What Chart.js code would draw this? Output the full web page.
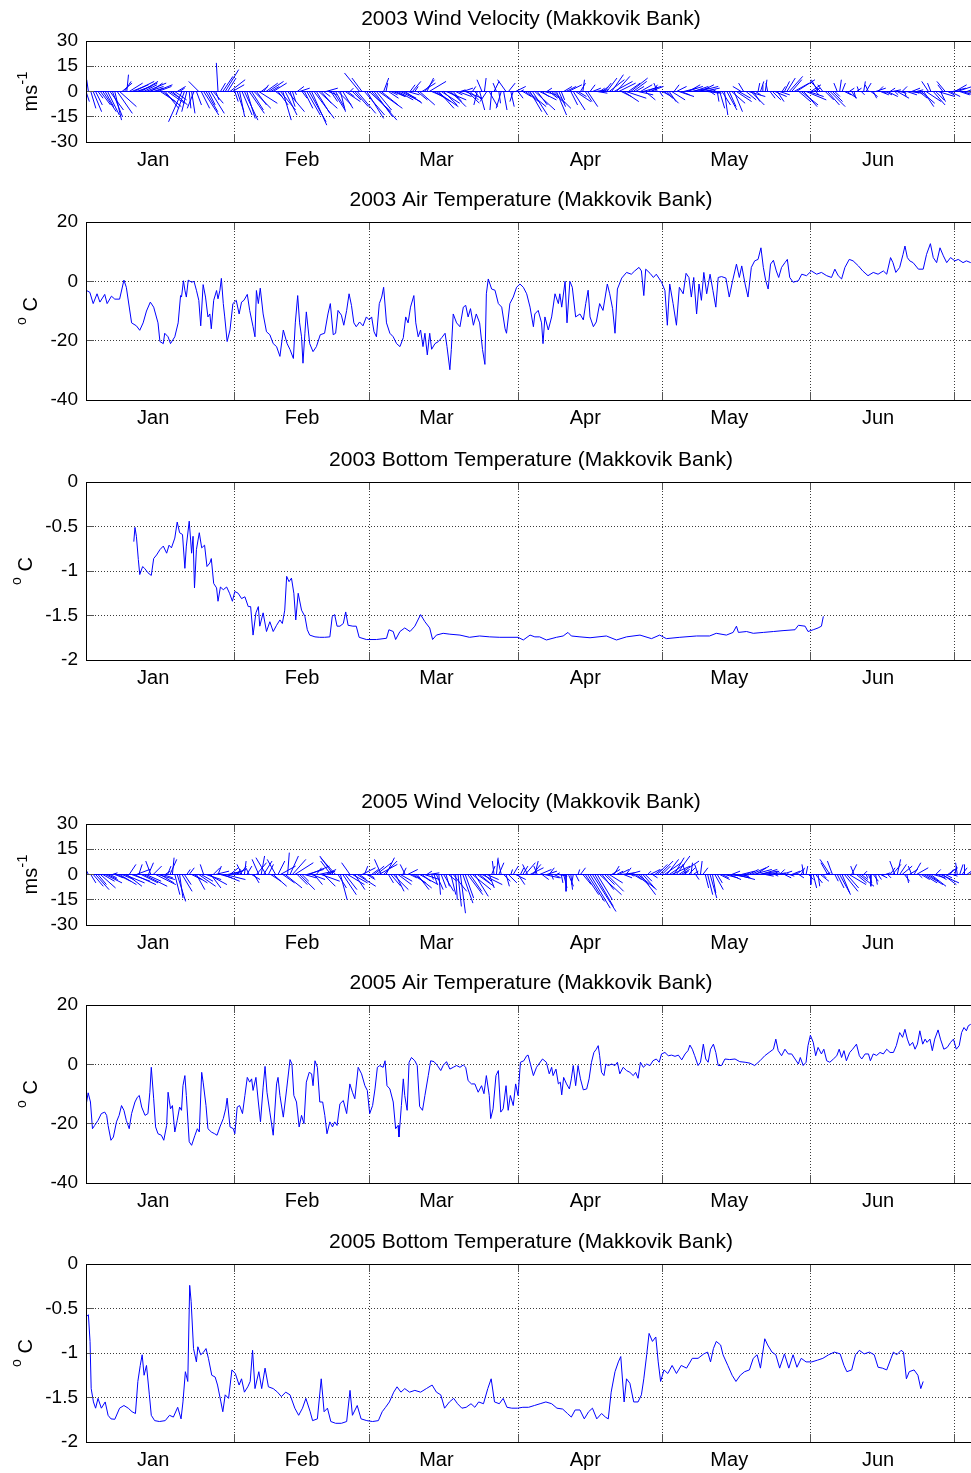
<!DOCTYPE html>
<html>
<head>
<meta charset="utf-8">
<title>Makkovik Bank 2003 / 2005</title>
<script src="https://cdn.jsdelivr.net/npm/chart.js@4.4.1/dist/chart.umd.min.js"></script>
<style>
  html, body { margin: 0; padding: 0; background: #fff; overflow: hidden; width: 971px; height: 1473px; }
  canvas { position: absolute; left: 0; }
</style>
</head>
<body>
<script>
// ---------- time axis (day of year, 0 = 1 Jan) ----------
const MONTHS = ['Jan', 'Feb', 'Mar', 'Apr', 'May', 'Jun'];
const MONTH_STARTS = [0, 31, 59, 90, 120, 151, 181];
const MONTH_LABEL_DAYS = [14, 45, 73, 104, 134, 165];
const X_MAX = 185.4;

// ---------- y tick sets ----------
const WIND_TICKS = [-30, -15, 0, 15, 30];
const AIR_TICKS = [-40, -20, 0, 20];
const BOTTOM_TICKS = [-2, -1.5, -1, -0.5, 0];

// ---------- wind sticks: one (u, v) pair in m/s every half day ----------
const WIND_STEP = 0.5;
const WIND03_U = [
  2,-1,3,5,4, 3,6,8,5,7,8,6,4,9,10,6,4,1, 8,10,12,9,11,10,8,12,9,7,6,10,8,
  9,11,8,10,6,9,7,5,3,-8, -5,-3,1,2,-4,3,-6, 5,9,7,4,8,6,2,-1,3, 6,8,5,9,7,
  2,4,3,6,8,5,9,7,10,6,11,4,3, 7,9,5,8,4,6,9,5,7,10,3,2,1,4,6, 3,5,8,10,9,12,8,11,6,4,7,5,
  4,7,5,8,3,6,9,4,2, 5,8,11,-9,-6,12,10,13,15,11,9,14,10,3,1,6,4,7,
  6,9,12,8,10,7,3,5,2,6,9,8,6,4,10, 7,10,13,9,11,8,12,6,9,5,4,8,3,6,10,7,5,
  2,4,-2,3,-3,1,-4,5,-1,3,-2, 1,-3,2,-5,4,2,-2,6,3,
  2,5,8,11,7,9,12,6,10,4,7,3,5,8,10,6,4,2,5, 6,8,4,7,9,5,3,1,4,6,3, 5,8,6,3,4,
  4,6,9,7,11,8,10,6,9,12,7,10,8,5,9,7,11,6,4,8, 3,1,-2,2,4, 5,7,4,8,3,6,9,5,
  8,10,7,11,9,6,12,8,10,5,7,3,2,4, 1,3,5,2,6,4,8,5,9,7,-5,-3,6,10,8,4,3,
  1,2,0,1,-1,3,5,7,4,6,2, 3,5,8,6,9,11,7,10,8,12,9,6,4, 2,-4,-6,-3,5,7,9,6,3,-2,1,2,4,6,3,
  2,1,3,-1,2,1,3,-2,4,2,6,3,5,2, 4,6,3,5,2,7,4,3,1,6,8,5,3,4,
  5,8,6,9,-4,-2,7,5,10,3,-3,-5,4,6,8, 7,9,6,10,8,5,4
];
const WIND03_V = [
  -6,7,-10,-12,-8, -4,-8,-12,-9,-14,-11,-15,-17,-13,-9,5,6,10, 5,4,6,3,5,6,4,5,3,5,2,4,3,
  -6,-9,-10,-7,-4,-8,-5,3,2,-18, -14,-12,-10,-13,-10,-8,6, -10,-14,-12,-8,-13,-7,-5,17,5, 9,13,8,7,4,
  -6,-12,-15,-14,-17,-16,-13,-11,-10,-8,-7,3,4, 5,6,3,5,-3,-8,-11,-17,-14,-12,-9,-6,-2,3,2, -4,-10,-14,-18,-20,-16,-13,-10,-7,-3,2,-2,
  -6,-11,-9,-8,-12,-10,-6,-3,2, -5,-9,-13,11,8,-14,-16,-12,-17,-15,-11,-10,-8,8,5,-4,-2,-3,
  -3,-5,-6,-4,-7,-2,4,6,3,-5,-8,5,7,8,6, -3,-6,-9,-10,-7,-8,-5,-4,-9,-6,-2,-3,1,2,-4,-7,-5,
  3,-5,-8,-11,7,8,-6,-9,-11,6,5, -7,-10,-11,7,5,-9,-6,3,-4,
  1,-3,-6,-9,-12,-14,-11,-8,-5,-3,-2,2,-4,-7,-10,-14,-9,-5,3, 3,4,-8,-11,-6,-3,5,7,-6,-9,4, 2,1,-1,2,3,
  5,8,7,10,6,9,5,-3,-6,-4,5,8,6,3,-2,4,3,-5,2,3, 4,3,5,-3,-2, -4,-7,-6,-5,4,3,-3,-2,
  2,3,4,2,3,1,3,4,2,1,-1,-2,1,-1, -6,-10,-8,-14,-11,-9,-7,-12,-6,-4,3,5,-5,-3,-8,-6,-2,
  5,6,4,7,5,-4,-5,-3,-6,-2,3, 6,8,9,7,5,7,-6,-8,-9,-5,-3,4,2, -2,7,6,4,-5,-8,-9,-6,-3,5,7,5,-2,-4,2,
  -3,-4,2,3,-2,6,5,4,-3,-4,2,3,-2,-1, -2,-3,2,1,-2,-4,-1,3,-3,-2,-1,2,-1,1,
  -4,-7,-9,-6,6,5,-8,-5,-3,-6,4,6,-2,-3,2, 4,3,-2,-3,-1,2,1
];
const WIND05_U = [
  -4,-2,3,6,8,5,9,7,10,6,4,3, 5,8,10,7,12,9,4,11,13,8,2,10,14,9,3,-3,5,12,10,8,6,3,
  2,4,1,3,5,2,6,4,2, 3,6,8,5,10,7,-2,9,11,6,4,8,2,7,10,12,9,5,8,3, 2,4,-3,1,3,-2,5,3,6,-4,2,5,-6,
  3,6,8,-5,4,9,7,10,1,5,8,11,6,9,4,7,10,12,8,5,3,9,11,7,6,4, -6,-8,-9,5,4,8,7,10,-5,9,6,11,4,8,2,5,3,
  4,6,9,11,-4,8,5,3,6,9,5,8,7,2,-3,6,4,8,10,7,11,5,9,3,6,
  1,2,4,1,3,6,2,5,3,8,1,2,3,6,5,9,7,11,8,10,6,12,4,7,3, 2,-1,1,3,-2,4,2,5,1,3,6,4,2,
  3,6,-3,8,5,2,-2,7,4,9,6,3,1,4,2,5, 1,2,0,3,1,-1,2,1, 3,5,8,10,12,14,11,9,13,7,6,10,8,5,3,
  4,6,8,5,3,7,2,5,8,11,9,7,4,2,6,3, 4,6,8,5,10,7,9,11,6,8,12,5,3,-2,4,1,3,
  2,-2,1,3,2,3,4,2,5,3,6,4,8,10,7,5, 9,11,6,8,4,2,6,9,11,8,12,10,7,5,3,6, 4,2,5,3,6,4,1,3,5,2,4,3,
  2,-1,1,3,0,2,4,1,5,2,3, -4,-6,-3,2,4,6,5,8,7,10,3,-2,6,9,4,2, 1,2,0,3,1,2,4,1,3,2,
  3,5,-3,2,4,6,3,1,5,-2,4,7,2, 5,8,10,6,9,7,3,5,11,8,4,6,2,3, 1,-1,2,3,0,4,2
];
const WIND05_V = [
  6,4,-5,-7,-9,-6,-8,-4,-5,-3,-2,1, -2,-4,-6,-3,-5,-7,6,-4,-6,3,6,-5,-7,-4,7,8,5,-6,-3,-5,-2,2,
  5,9,10,-12,-16,-14,-10,-6,3, 4,-3,-5,-9,-7,-4,6,-3,-6,-8,4,2,5,-2,-4,-3,2,4,3,1, 3,5,6,8,5,4,-3,-5,7,9,11,8,10,
  6,-4,-7,9,8,5,-5,-8,13,11,9,7,-6,-9,-4,-2,3,5,-3,-6,4,2,-4,-7,3,2, 8,11,10,-8,-15,-12,-9,-6,7,-5,-9,-7,-3,4,5,-3,-2,
  3,5,7,6,9,8,10,-5,-7,-9,-10,-6,-4,4,6,3,-2,-5,-8,-9,-6,-4,-3,2,1,
  -3,-6,-9,-12,-8,-10,-7,-4,-12,-10,-15,-19,-23,-17,-14,-12,-10,-9,-13,-7,-5,-6,-4,-3,-8, 5,8,10,7,9,-4,-7,-5,3,5,-3,-6,4,
  5,7,6,4,6,8,5,3,-3,-2,2,4,-3,-2,1,-1, -5,-8,-10,-7,-9,-6,-4,3, 4,-6,-12,-16,-20,-22,-19,-15,-12,-9,-6,-10,-5,3,5,
  2,3,1,-2,4,2,-1,-3,-6,-9,-12,-8,-4,2,3,-2, 3,6,8,5,7,9,6,5,10,11,8,3,2,6,4,7,2,
  -3,6,8,4,-8,-12,-14,-11,-9,-5,-3,-2,-2,-1,-3,2, -2,-3,-1,2,-2,1,3,4,3,5,2,3,1,-1,0,1, 2,-1,1,3,2,-2,1,-1,2,1,3,-2,
  4,6,5,-3,-6,-8,-5,-7,-4,-2,1, 7,9,8,-4,-8,-11,-12,-10,-8,-6,6,5,-5,-7,-3,2, -2,-5,-7,-4,-6,-3,-2,-1,1,-2,
  4,6,8,9,6,5,-4,-5,3,5,7,4,-2, -3,-5,-6,-4,-7,-2,3,-3,-5,-6,-2,4,3,-1, 5,7,6,4,6,3,2
];

// ---------- 2003 air temperature (deg C) ----------
const AIR03_DAY = [
  0,0.8,1.5,2.3,2.9,3.9,4.4,5.3,6.0,7.0, 7.9,8.4,9.5,10.5,11.2,11.9,12.6,13.4,14.1,15.0,
  15.4,16.1,16.4,17.1,17.6,18.5,19.2,19.7,19.9,20.3, 20.6,20.9,21.3,22.0,22.5,23.0,23.5,23.9,24.4,24.9,
  25.4,25.8,26.1,26.6,27.2,27.5,27.9,28.2,28.6,28.9, 29.4,30.0,30.6,31.3,31.9,32.4,32.9,33.6,34.1,34.8,
  35.2,35.5,35.9,36.3,36.9,37.6,38.3,39.0,39.7,40.4, 41.1,41.9,42.5,43.2,43.6,44.1,44.5,44.9,45.2,45.6,
  45.9,46.6,47.3,48.0,48.8,49.7,50.4,50.9,51.5,52.0, 52.5,53.2,53.7,54.3,54.8,55.3,55.8,56.3,57.0,57.7,
  58.4,59.0,59.5,60.0,60.5,61.1,61.6,62.0,62.6,63.3, 64.0,64.7,65.4,66.1,66.6,67.1,67.6,68.3,68.7,69.2,
  69.7,70.2,70.6,71.1,71.6,72.0,72.7,73.4,74.1,74.8, 75.2,75.8,76.1,76.5,77.2,77.9,78.6,79.1,79.6,80.1,
  80.7,81.3,82.0,82.6,83.1,83.4,83.8,84.5,85.2,85.9, 86.6,87.3,87.6,88.3,89.0,89.7,90.4,91.1,91.8,92.5,
  93.2,93.5,94.2,94.9,95.2,95.6,96.3,97.0,97.7,98.4, 98.7,99.1,99.8,100.2,100.8,101.3,102.0,102.9,103.6,104.1,
  104.6,105.0,105.7,106.3,107.0,107.7,108.6,109.1,109.7,110.2, 110.7,111.6,112.6,113.6,114.3,115.2,115.7,116.2,116.6,117.5,
  118.2,118.8,119.9,120.6,121.1,121.6,122.3,123.0,123.6,124.4, 125.0,125.6,126.1,126.6,127.2,127.7,128.2,128.7,129.3,130.0,
  130.6,131.2,131.7,132.4,133.3,134.0,134.7,135.5,136.1,136.6, 137.3,137.9,138.6,139.3,140.0,140.6,141.1,141.6,142.1,142.6,
  143.2,143.8,144.3,144.9,145.6,146.1,146.6,147.3,148.4,149.1, 150.1,151.1,152.2,153.2,154.3,155.3,156.0,156.7,157.4,158.1,
  159.0,159.8,160.9,161.8,162.9,164.0,165.0,166.1,166.8,167.6, 168.1,168.7,169.5,170.2,170.6,171.1,171.6,172.3,173.4,174.4,
  175.1,175.9,176.5,177.2,177.9,178.6,179.3,180.1,181.0,181.7, 182.7,183.4,184.3
];
const AIR03_TEMP = [
  -3,-3.7,-7.5,-4.2,-7,-4.4,-7.5,-5,-6,-6, 0.4,-2,-14,-15,-16.5,-14,-10,-7,-8.7,-14,
  -20.3,-21,-17.5,-18.7,-21,-18.7,-14,-4.8,-5.3,0.2, -3,-5.3,0.4,-0.3,0,-3,-6.4,-15,-1.1,-5.3,
  -12,-11,-16,-6.4,-3.1,-5.9,-3,1,-7.5,-12, -20.3,-16.4,-7.5,-6.4,-11,-7,-6.4,-4.4,-9.8,-15.3,
  -18.7,-3.1,-7.5,-2.3,-11,-17,-18,-21,-22,-25.3, -16.4,-21,-23,-26,-14,-4.8,-14,-18.7,-27.6,-17.5,
  -10.3,-21,-23.7,-22,-18,-17.5,-11,-7.5,-18,-17.5, -9.8,-11.4,-14.8,-9.8,-4.2,-8.1,-14,-15.3,-13.7,-15,
  -12,-13,-12,-17,-18.7,-7.5,-5.3,-2,-14,-17.5, -18.7,-21,-22,-19,-12,-14,-8.7,-4.8,-14,-18.7,
  -16.4,-22,-17.5,-24.8,-17.5,-22.9,-21,-20.3,-19,-17.5, -22,-29.8,-23,-11,-14,-15.3,-8.7,-8.1,-12,-9.2,
  -14.8,-11,-14,-23,-28,-4.2,0.8,-2.6,-3,-7.5, -8.7,-16,-17.5,-7.5,-5.3,-2,-0.9,-2,-4.2,-8.7,
  -15.3,-11,-9.8,-14,-21,-12,-16.4,-12,-4.2,-7.5, -4.2,-8.7,0,-14,0,-2,-12,-11,-13,-7.5,
  -3,-12,-15.3,-13.7,-7.5,-9.8,-0.9,-4.2,-9.2,-17.5, -2.6,1.1,3,2.4,3.5,4.7,3.5,-4.8,4.1,2.7,
  1.3,2.4,-0.3,-3.1,-14.8,-0.9,-7.5,-14.8,-2,-4.2, 2.7,1.3,-5.3,1.3,-11,-0.9,-6.4,3,-4.2,2.4,
  -3.1,-8.7,1.3,1.6,1.1,-5.3,0.2,5.8,1.3,5.2, -0.9,-5.3,4.7,6.9,7.4,11.3,4.7,0.2,-2.6,5.8,
  7.1,3.5,1.3,4.7,6.3,7.4,1.3,-0.3,0.2,2.4, 1.9,3.5,2.4,3,1.9,1.3,4.1,1.9,0.8,4.7,
  7.4,6.9,5.2,3.5,1.9,3,2.4,3.5,2.4,8, 6.3,3,4.7,9.1,11.9,8,6.9,6.3,4.1,4.1,
  9.1,12.7,8,6.3,11.3,8.6,6.3,8,6.9,7.4, 6.3,6.9,6.3
];

// ---------- 2003 bottom temperature (deg C) ----------
const BOT03_DAY = [
  9.96,10.2,10.5,10.9,11.2,11.8,12.2,12.9,13.6,14.1, 14.7,15.4,16.1,16.8,17.3,17.8,18.5,19.0,19.5,20.1,
  20.6,20.9,21.5,22.0,22.3,22.6,23.0,23.6,24.1,24.7, 25.2,25.8,26.1,26.6,27.2,27.5,28.0,28.6,29.3,29.9,
  30.5,31.0,31.7,32.4,33.1,33.8,34.3,34.8,35.4,35.9, 36.2,36.9,37.6,38.3,39.0,39.7,40.4,40.9,41.4,41.8,
  42.3,42.8,43.3,43.7,44.2,44.9,45.6,46.1,46.6,47.7, 48.7,49.7,50.8,51.3,51.8,52.3,52.9,53.6,54.1,54.6,
  55.6,56.3,56.9,58.4,60.5,62.6,63.1,64.0,64.5,65.4, 66.4,67.5,68.5,69.7,70.6,71.6,72.2,73.0,74.4,75.8,
  77.9,79.9,82.0,84.1,86.2,90.0,91.1,92.5,93.5,94.5, 95.9,98.0,99.4,100.4,101.1,102.9,105.0,108.4,110.5,112.6,
  115.4,117.8,119.5,120.9,123.7,127.2,129.9,131.3,133.4,134.8, 135.5,135.9,137.6,139.0,141.1,143.2,145.2,147.7,148.4,149.8,
  150.4,151.5,152.5,153.2,153.6
];
const BOT03_TEMP = [
  -0.67,-0.51,-0.61,-0.87,-1.04,-0.95,-0.97,-1.02,-1.05,-0.86, -0.82,-0.76,-0.72,-0.80,-0.71,-0.74,-0.63,-0.45,-0.57,-0.59,
  -0.97,-0.72,-0.44,-0.80,-0.61,-1.19,-0.76,-0.57,-0.74,-0.71, -0.95,-0.91,-0.86,-1.14,-1.19,-1.34,-1.18,-1.21,-1.18,-1.25,
  -1.34,-1.23,-1.25,-1.31,-1.29,-1.40,-1.40,-1.72,-1.47,-1.40, -1.62,-1.47,-1.68,-1.57,-1.68,-1.61,-1.55,-1.59,-1.44,-1.06,
  -1.12,-1.08,-1.25,-1.55,-1.25,-1.44,-1.51,-1.66,-1.72,-1.74, -1.745,-1.745,-1.74,-1.51,-1.49,-1.62,-1.62,-1.59,-1.46,-1.61,
  -1.62,-1.62,-1.745,-1.77,-1.77,-1.756,-1.66,-1.68,-1.77,-1.68, -1.64,-1.68,-1.62,-1.49,-1.57,-1.64,-1.77,-1.72,-1.70,-1.71,
  -1.72,-1.745,-1.73,-1.74,-1.745,-1.745,-1.775,-1.72,-1.74,-1.74, -1.775,-1.745,-1.73,-1.69,-1.73,-1.74,-1.75,-1.73,-1.775,-1.74,
  -1.72,-1.76,-1.72,-1.76,-1.745,-1.73,-1.73,-1.70,-1.72,-1.69, -1.62,-1.69,-1.68,-1.70,-1.69,-1.68,-1.67,-1.66,-1.61,-1.62,
  -1.68,-1.66,-1.64,-1.62,-1.51
];

// ---------- 2005 air temperature (deg C) ----------
const AIR05_DAY = [
  0,0.45,0.93,1.35,1.8,2.5,3.2,3.9,4.3,4.6, 5.2,5.7,6.35,6.9,7.4,7.9,8.4,9.0,9.5,10.2,
  10.7,11.1,11.6,12.3,12.9,13.3,13.6,14.1,14.5,15.0, 15.7,16.2,16.8,17.1,17.6,18.0,18.5,19.0,19.5,19.9,
  20.2,20.6,20.9,21.5,22.0,22.7,23.2,23.6,24.1,24.4, 25.0,25.4,26.1,26.8,27.3,27.9,28.6,29.1,29.4,30.0,
  30.7,31.0,31.5,32.0,32.6,33.1,33.6,34.1,34.5,34.8, 35.4,35.9,36.35,36.9,37.3,37.7,38.3,39.0,39.7,40.0,
  40.4,41.1,41.8,42.5,42.9,43.3,43.85,44.4,44.9,45.4, 45.9,46.5,47.0,47.3,47.7,48.2,48.7,49.3,49.75,50.2,
  50.8,51.35,51.8,52.3,52.9,53.6,54.3,54.96,55.5,56.0, 56.7,57.4,58.1,58.6,59.1,59.7,60.2,60.7,61.2,61.9,
  62.3,62.7,63.3,64.0,64.5,65.0,65.2,65.7,66.1,66.4, 66.9,67.3,67.8,68.5,69.0,69.5,70.1,70.6,71.3,71.8,
  72.5,73.2,73.9,74.4,75.1,75.8,76.5,77.2,77.9,78.6, 79.1,79.6,80.3,81.0,81.7,82.4,82.9,83.4,84.0,84.3,
  84.8,85.4,85.9,86.4,86.9,87.5,87.95,88.4,89.0,89.5, 90.0,90.5,91.2,91.8,92.1,93.2,93.85,95.1,95.9,96.5,
  97.0,97.3,97.9,98.4,98.8,99.1,99.5,100.1,100.7,101.1, 101.5,102.0,102.5,103.0,103.6,104.3,104.8,105.3,105.8,106.3,
  106.7,107.0,107.4,107.9,108.3,108.8,109.5,110.2,110.7,111.2, 111.9,112.6,113.3,114.0,114.5,115.0,115.5,116.1,116.8,117.5,
  118.1,118.8,119.4,119.9,120.6,121.3,122.0,122.7,123.4,124.1, 124.8,125.4,125.8,126.3,126.8,127.5,128.0,128.6,129.1,129.6,
  130.1,130.7,131.2,131.7,132.4,133.1,134.1,135.2,136.2,137.3, 138.3,139.3,140.4,141.4,142.3,143.2,143.7,144.2,144.9,145.6,
  146.3,147.0,147.7,148.4,148.8,149.4,150.0,150.4,150.9,151.5, 152.0,152.5,153.2,153.7,154.3,154.95,155.7,156.4,156.9,157.4,
  157.9,158.4,159.1,159.7,160.5,161.1,161.6,162.3,163.0,163.4, 164.0,164.7,165.4,166.1,166.8,167.5,168.2,168.8,169.5,170.1,
  170.6,171.1,171.6,172.2,172.7,173.2,173.7,174.3,174.8,175.2, 175.8,176.3,176.8,177.5,178.0,178.7,179.4,180.1,180.7,181.3,
  181.9,182.4,182.9,183.4,183.8,184.3
];
const AIR05_TEMP = [
  -13.9,-9.6,-12.7,-21.7,-20.6,-18.9,-16.6,-16.1,-17.2,-20.6, -25.6,-24.5,-19.4,-17.2,-13.9,-15.5,-18.9,-21.7,-16.6,-12.7,
  -11.1,-10.5,-14.4,-17.2,-16.6,-9.4,-1.0,-11.6,-21.1,-23.4, -23.9,-25.6,-20.6,-9.4,-15.0,-13.9,-22.8,-18.9,-14.4,-15.5,
  -7.2,-3.8,-10.5,-26.1,-27.3,-23.9,-21.7,-22.8,-2.7,-6.0, -13.9,-21.7,-22.8,-23.4,-23.9,-21.1,-18.3,-15.0,-11.4,-21.1,
  -21.7,-23.4,-14.4,-13.9,-16.6,-10.5,-4.4,-6.0,-4.9,-8.8, -4.4,-12.7,-19.4,-7.7,-0.7,-9.4,-16.1,-23.9,-6.6,-4.4,
  -10.5,-17.8,-8.3,1.6,0.1,-10.5,-12.7,-21.1,-17.2,-20.0, -6.0,-2.7,-3.2,-7.2,1.2,-1.0,-12.7,-12.7,-17.2,-23.4,
  -19.4,-21.1,-19.4,-20.6,-13.3,-12.2,-16.6,-6.6,-9.4,-11.6, -1.0,-3.2,-7.2,-8.8,-16.6,-13.9,-8.3,-1.0,-0.4,-1.0,
  1.2,-7.2,-8.3,-12.7,-21.7,-20.6,-24.5,-13.9,-4.9,-10.5, -15.5,0.7,2.3,1.2,-0.4,-14.2,-15.5,-10.5,-3.8,1.2,
  0.9,-0.4,-2.1,-0.4,0.9,-1.6,-1.0,-0.4,-1.0,-0.2, -1.0,-5.5,-6.6,-6.6,-9.4,-7.2,-9.9,-3.8,-10.5,-18.3,
  -15.0,-3.8,-2.1,-16.1,-15.0,-7.2,-15.5,-10.5,-13.9,-6.6, -10.5,0.7,1.2,2.9,3.1,-3.8,-1.0,1.8,0.7,-3.2,
  -1.0,-3.8,-1.6,-6.6,-6.0,-10.3,-4.4,-6.6,-8.3,-4.9, -0.4,-7.2,-0.4,-4.9,-8.6,-8.3,-4.9,0.7,4.0,5.1,
  6.3,2.9,-2.7,-3.8,0.1,-0.4,0.1,-0.4,0.7,-3.2, -1.0,-2.1,-2.7,-3.8,-2.7,-4.7,0.7,-1.0,0.1,-0.4,
  1.2,1.8,0.7,3.5,4.0,2.9,3.1,2.7,3.1,1.5, 3.5,4.6,6.5,5.1,2.9,-0.4,0.7,6.8,1.8,0.7,
  5.1,6.8,4.0,-0.4,-0.4,1.8,1.6,1.8,0.9,0.7, 0.4,-0.4,1.2,2.9,4.0,5.1,8.5,4.6,2.9,5.1,
  3.5,3.5,1.8,0.1,2.3,-0.4,0.7,6.3,9.8,7.4, 2.9,5.7,3.5,5.1,1.2,0.7,1.8,2.9,5.1,2.3,
  4.6,1.2,4.0,5.1,6.8,2.9,1.8,3.5,3.5,1.2, 3.5,3.0,4.0,3.5,5.1,4.0,4.0,6.3,10.7,9.1,
  11.8,8.5,6.3,7.4,5.1,6.8,11.3,6.8,8.5,7.4, 8.5,4.6,8.5,11.6,8.5,5.1,5.7,7.4,8.5,5.1,
  6.3,10.7,12.4,11.3,13.0,13.5
];

// ---------- 2005 bottom temperature (deg C) ----------
const BOT05_DAY = [
  0.13,0.5,0.84,1.08,1.55,2.0,2.5,3.2,4.0,4.6, 5.2,6.0,7.0,7.9,8.8,9.6,10.3,10.8,11.3,11.7,
  12.1,12.6,13.2,13.6,14.3,15.3,16.5,17.4,18.2,19.1, 19.8,20.2,20.7,21.2,21.6,21.9,22.4,23.0,23.3,23.9,
  24.5,25.0,25.5,26.2,26.9,27.4,28.1,28.5,29.0,29.7, 30.4,31.1,31.9,32.4,33.0,33.7,34.2,34.7,35.2,36.0,
  36.6,37.3,38.0,39.0,39.9,40.7,41.6,42.5,43.5,44.3, 45.1,45.8,46.7,47.2,48.2,49.0,49.6,50.3,51.0,52.0,
  53.2,54.3,55.0,55.5,56.5,57.3,58.5,59.7,60.9,61.7, 62.4,63.2,64.1,64.8,65.6,66.4,67.4,68.5,69.7,70.9,
  72.1,73.0,73.9,74.7,75.7,76.6,77.4,78.3,79.2,80.2, 81.0,81.8,82.8,83.7,84.4,85.1,86.1,86.9,87.7,88.7,
  89.9,91.0,92.2,93.4,94.6,95.8,97.0,98.1,99.3,100.3, 101.1,101.9,102.9,103.8,104.7,105.5,106.4,107.4,108.2,108.8,
  109.4,110.2,110.9,111.4,112.1,112.6,113.3,114.1,115.0,115.7, 116.2,116.8,117.3,118.0,118.7,119.2,119.7,120.4,121.2,122.1,
  123.0,124.0,125.1,126.3,127.5,128.7,129.5,130.1,130.7,131.3, 132.2,132.7,133.7,134.6,135.4,136.3,137.2,138.2,139.0,139.8,
  140.5,141.4,142.0,142.9,143.7,144.5,145.5,146.4,147.3,148.1, 149.0,150.0,151.2,152.4,153.5,154.7,155.9,157.1,157.9,158.5,
  159.5,160.3,161.1,162.1,163.2,164.2,165.0,165.9,166.8,167.7, 168.2,168.9,169.8,170.3,170.9,171.5,172.5,173.3,173.9,174.4
];
const BOT05_TEMP = [
  -0.59,-0.57,-0.87,-1.40,-1.55,-1.62,-1.51,-1.62,-1.55,-1.70, -1.74,-1.745,-1.62,-1.59,-1.62,-1.66,-1.68,-1.32,-1.14,-1.02,
  -1.25,-1.14,-1.47,-1.70,-1.76,-1.77,-1.76,-1.70,-1.72,-1.61, -1.74,-1.55,-1.21,-1.32,-0.24,-0.42,-0.95,-1.10,-0.93,-1.02,
  -0.99,-0.95,-1.06,-1.25,-1.27,-1.36,-1.55,-1.66,-1.47,-1.51, -1.19,-1.23,-1.36,-1.29,-1.44,-1.38,-1.32,-0.97,-1.40,-1.21,
  -1.40,-1.17,-1.38,-1.40,-1.44,-1.49,-1.44,-1.47,-1.62,-1.70, -1.62,-1.51,-1.66,-1.76,-1.74,-1.29,-1.66,-1.62,-1.77,-1.79,
  -1.79,-1.77,-1.42,-1.70,-1.59,-1.74,-1.76,-1.77,-1.76,-1.66, -1.61,-1.55,-1.44,-1.38,-1.44,-1.40,-1.44,-1.42,-1.44,-1.40,
  -1.36,-1.44,-1.47,-1.62,-1.55,-1.51,-1.57,-1.62,-1.61,-1.57, -1.61,-1.55,-1.57,-1.40,-1.29,-1.55,-1.57,-1.51,-1.61,-1.62,
  -1.62,-1.61,-1.61,-1.59,-1.57,-1.55,-1.57,-1.62,-1.63,-1.68, -1.72,-1.64,-1.64,-1.74,-1.66,-1.62,-1.74,-1.68,-1.72,-1.74,
  -1.44,-1.21,-1.10,-1.04,-1.55,-1.29,-1.34,-1.55,-1.55,-1.47, -1.29,-1.02,-0.78,-0.87,-0.82,-1.10,-1.32,-1.19,-1.23,-1.14,
  -1.23,-1.14,-1.17,-1.06,-1.06,-1.01,-0.99,-1.10,-0.95,-0.87, -0.91,-1.02,-1.14,-1.25,-1.32,-1.25,-1.21,-1.19,-1.06,-1.02,
  -1.17,-0.84,-0.91,-0.99,-1.02,-1.17,-1.01,-1.17,-1.02,-1.16, -1.06,-1.10,-1.10,-1.08,-1.06,-1.02,-0.99,-1.01,-1.14,-1.21,
  -1.19,-1.02,-0.97,-1.01,-0.99,-1.02,-1.16,-1.17,-1.19,-1.06, -0.99,-1.02,-0.97,-0.99,-1.29,-1.21,-1.19,-1.25,-1.40,-1.32
];

// ---------- drawing constants ----------
const FONT = '"Liberation Sans", Arial, Helvetica, sans-serif';
const LINE_BLUE = '#0000ff';
const GRID_COLOR = '#3a3a3a';
const TICK_COLOR = '#555';
const CANVAS_W = 990;
const PLOT_LEFT = 86;
const TITLE_SPACE = 41;
const X_AXIS_H = 30;
const TICK_LEN = 8;
// horizontal length of a stick, in days per m/s, so a stick keeps its true direction
const STICK_DAYS_PER_MS = (101 / 60) / 4.8;

Chart.defaults.font.family = FONT;
Chart.defaults.color = '#000';

function lineSeries(days, vals) {
  const n = Math.min(days.length, vals.length);
  const out = [];
  for (let i = 0; i < n; i++) out.push({ x: days[i], y: vals[i] });
  return out;
}

function stickSeries(u, v) {
  const n = Math.min(u.length, v.length);
  const pts = [];
  for (let i = 0; i < n; i++) {
    const t = i * WIND_STEP;
    pts.push({ x: t, y: 0 }, { x: t + u[i] * STICK_DAYS_PER_MS, y: v[i] }, { x: t, y: null });
  }
  return pts;
}

const LABEL_MS = [{ text: 'ms', size: 20, rise: 0 }, { text: '-1', size: 15, rise: 10 }];
const LABEL_DEGC = [{ text: 'o', size: 14, rise: 11 }, { text: ' C', size: 20, rise: 0 }];

const PANELS = [
  { title: '2003 Wind Velocity (Makkovik Bank)', plotTop: 41, plotHeight: 101, ticks: WIND_TICKS,
    wind: [WIND03_U, WIND03_V], ylabel: LABEL_MS, labelX: 37 },
  { title: '2003 Air Temperature (Makkovik Bank)', plotTop: 222, plotHeight: 178, ticks: AIR_TICKS,
    series: [AIR03_DAY, AIR03_TEMP], ylabel: LABEL_DEGC, labelX: 37 },
  { title: '2003 Bottom Temperature (Makkovik Bank)', plotTop: 482, plotHeight: 178, ticks: BOTTOM_TICKS,
    series: [BOT03_DAY, BOT03_TEMP], ylabel: LABEL_DEGC, labelX: 32 },
  { title: '2005 Wind Velocity (Makkovik Bank)', plotTop: 824, plotHeight: 101, ticks: WIND_TICKS,
    wind: [WIND05_U, WIND05_V], ylabel: LABEL_MS, labelX: 37 },
  { title: '2005 Air Temperature (Makkovik Bank)', plotTop: 1005, plotHeight: 178, ticks: AIR_TICKS,
    series: [AIR05_DAY, AIR05_TEMP], ylabel: LABEL_DEGC, labelX: 37 },
  { title: '2005 Bottom Temperature (Makkovik Bank)', plotTop: 1264, plotHeight: 178, ticks: BOTTOM_TICKS,
    series: [BOT05_DAY, BOT05_TEMP], ylabel: LABEL_DEGC, labelX: 32 }
];

function alignPx(p) { return Math.round(p - 0.5) + 0.5; }

function drawRotatedLabel(ctx, xBase, yCenter, parts) {
  let total = 0;
  parts.forEach(p => { ctx.font = p.size + 'px ' + FONT; p.w = ctx.measureText(p.text).width; total += p.w; });
  ctx.save();
  ctx.translate(xBase, yCenter);
  ctx.rotate(-Math.PI / 2);
  ctx.fillStyle = '#000';
  ctx.textAlign = 'left';
  ctx.textBaseline = 'alphabetic';
  let x = -total / 2;
  parts.forEach(p => { ctx.font = p.size + 'px ' + FONT; ctx.fillText(p.text, x, -p.rise); x += p.w; });
  ctx.restore();
}

// box, inward tick marks, panel title and y label
const panelDecor = {
  id: 'panelDecor',
  afterDraw(chart, args, opts) {
    const ctx = chart.ctx;
    const { left, right, top, bottom } = chart.chartArea;
    const xs = chart.scales.x, ys = chart.scales.y;
    ctx.save();
    ctx.lineWidth = 1;
    ctx.strokeStyle = TICK_COLOR;
    ctx.beginPath();
    MONTH_STARTS.forEach(d => {
      const px = alignPx(xs.getPixelForValue(d));
      ctx.moveTo(px, bottom); ctx.lineTo(px, bottom - TICK_LEN);
      ctx.moveTo(px, top); ctx.lineTo(px, top + TICK_LEN);
    });
    opts.ticks.forEach(v => {
      const py = alignPx(ys.getPixelForValue(v));
      ctx.moveTo(left, py); ctx.lineTo(left + TICK_LEN, py);
      ctx.moveTo(right, py); ctx.lineTo(right - TICK_LEN, py);
    });
    ctx.stroke();
    ctx.strokeStyle = '#000';
    ctx.strokeRect(alignPx(left), alignPx(top), Math.round(right - left), Math.round(bottom - top));
    ctx.fillStyle = '#000';
    ctx.font = '21px ' + FONT;
    ctx.textAlign = 'center';
    ctx.textBaseline = 'middle';
    ctx.fillText(opts.title, (left + right) / 2, top - 22);
    drawRotatedLabel(ctx, opts.labelX, (top + bottom) / 2, opts.ylabel);
    ctx.restore();
  }
};

const xTickValues = MONTH_STARTS.concat(MONTH_LABEL_DAYS).sort((a, b) => a - b);

PANELS.forEach(p => {
  const canvas = document.createElement('canvas');
  const h = TITLE_SPACE + p.plotHeight + X_AXIS_H;
  canvas.width = CANVAS_W;
  canvas.height = h;
  canvas.style.top = (p.plotTop - TITLE_SPACE) + 'px';
  canvas.style.width = CANVAS_W + 'px';
  canvas.style.height = h + 'px';
  document.body.appendChild(canvas);

  const yMin = Math.min(...p.ticks), yMax = Math.max(...p.ticks);
  const datasets = [];
  if (p.wind) {
    datasets.push({ data: [{ x: 0, y: 0 }, { x: X_MAX, y: 0 }], borderColor: LINE_BLUE, borderWidth: 1 });
    datasets.push({ data: stickSeries(p.wind[0], p.wind[1]), borderColor: LINE_BLUE, borderWidth: 1, spanGaps: false });
  } else {
    datasets.push({ data: lineSeries(p.series[0], p.series[1]), borderColor: LINE_BLUE, borderWidth: 1 });
  }

  new Chart(canvas, {
    type: 'line',
    data: { datasets },
    options: {
      responsive: false,
      devicePixelRatio: 1,
      animation: false,
      events: [],
      layout: { padding: { top: TITLE_SPACE, right: CANVAS_W - 976, left: 0, bottom: 0 } },
      elements: { point: { radius: 0 }, line: { tension: 0 } },
      plugins: {
        legend: { display: false },
        tooltip: { enabled: false },
        panelDecor: { title: p.title, ylabel: p.ylabel, labelX: p.labelX, ticks: p.ticks }
      },
      scales: {
        x: {
          type: 'linear', min: 0, max: X_MAX,
          afterBuildTicks: s => { s.ticks = xTickValues.map(v => ({ value: v })); },
          afterFit: s => { s.height = X_AXIS_H; },
          grid: {
            color: c => (c.tick && MONTH_STARTS.includes(c.tick.value)) ? GRID_COLOR : 'rgba(0,0,0,0)',
            drawTicks: false, lineWidth: 1
          },
          border: { display: false, dash: [1, 2] },
          ticks: {
            autoSkip: false, maxRotation: 0, padding: 6, color: '#000', font: { size: 20 },
            callback: v => { const i = MONTH_LABEL_DAYS.indexOf(v); return i >= 0 ? MONTHS[i] : ''; }
          }
        },
        y: {
          type: 'linear', min: yMin, max: yMax,
          afterBuildTicks: s => { s.ticks = p.ticks.map(v => ({ value: v })); },
          afterFit: s => { s.width = PLOT_LEFT; },
          grid: {
            color: c => (c.tick && (c.tick.value === yMin || c.tick.value === yMax)) ? 'rgba(0,0,0,0)' : GRID_COLOR,
            drawTicks: false, lineWidth: 1
          },
          border: { display: false, dash: [1, 2] },
          ticks: { autoSkip: false, padding: 8, color: '#000', font: { size: 19 }, callback: v => String(v) }
        }
      }
    },
    plugins: [panelDecor]
  });
});
</script>
</body>
</html>
